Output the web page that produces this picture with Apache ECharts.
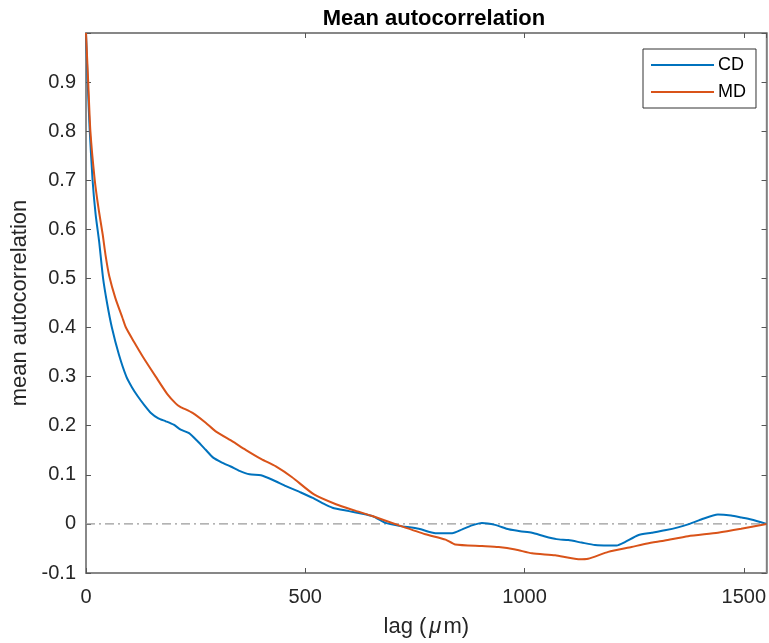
<!DOCTYPE html>
<html>
<head>
<meta charset="utf-8">
<title>Mean autocorrelation</title>
<script src="https://cdn.jsdelivr.net/npm/echarts@6/dist/echarts.min.js"></script>
<style>
  html, body { margin: 0; padding: 0; background: #fff; }
  #chart { width: 769px; height: 643px; }
</style>
</head>
<body>
<div id="chart"></div>
<script>
// values
var lagCD = [0, 3, 8, 15, 22, 30, 39, 48, 59, 75, 92, 105, 118, 133, 148, 165, 182, 200, 216, 235,
  255, 273, 290, 310, 330, 350, 373, 399, 425, 456, 490, 517, 540, 562, 600, 653, 683, 714, 759, 797,
  835, 858, 880, 903, 933, 964, 990, 1017, 1045, 1073, 1100, 1130, 1161, 1190, 1210, 1229, 1259, 1290,
  1320, 1350, 1373, 1403, 1441, 1471, 1495, 1517, 1552];
var cdValues = [1.0, 0.92, 0.81, 0.70, 0.63, 0.575, 0.50, 0.45, 0.40, 0.345, 0.30, 0.278, 0.26, 0.242,
  0.226, 0.215, 0.209, 0.202, 0.192, 0.185, 0.168, 0.151, 0.135, 0.125, 0.117, 0.108, 0.101, 0.099,
  0.09, 0.077, 0.064, 0.053, 0.042, 0.033, 0.026, 0.016, 0.002, -0.004, -0.010, -0.019, -0.019, -0.011,
  -0.003, 0.002, -0.002, -0.011, -0.015, -0.018, -0.025, -0.031, -0.033, -0.038, -0.043, -0.044, -0.044,
  -0.037, -0.023, -0.018, -0.013, -0.007, -0.001, 0.009, 0.019, 0.017, 0.013, 0.009, 0.0];

var lagMD = [0, 5, 10, 20, 29, 38, 45, 53, 67, 83, 91, 110, 130, 159, 185, 205, 214, 243, 273, 295,
  334, 364, 400, 433, 470, 520, 570, 610, 653, 714, 774, 820, 842, 903, 941, 979, 1017, 1070, 1123,
  1145, 1191, 1244, 1280, 1320, 1373, 1441, 1494, 1552];
var mdValues = [1.0, 0.90, 0.80, 0.70, 0.64, 0.59, 0.545, 0.505, 0.46, 0.42, 0.40, 0.37, 0.34, 0.30,
  0.265, 0.245, 0.239, 0.226, 0.206, 0.189, 0.168, 0.151, 0.132, 0.117, 0.095, 0.060, 0.040, 0.028,
  0.016, -0.003, -0.021, -0.032, -0.042, -0.045, -0.047, -0.052, -0.060, -0.064, -0.072, -0.071,
  -0.057, -0.047, -0.040, -0.034, -0.025, -0.018, -0.010, 0.0];

var xTicks = [0, 500, 1000, 1500];
var lagMax = 1552;
var zeroLevel = 0;

function pairs(xs, ys) {
  return xs.map(function (x, i) { return [x, ys[i]]; });
}

var font = 'Liberation Sans, Arial, Helvetica, sans-serif';
var axisGrey = '#808080';
var tickStyle = { inside: true, length: 5, lineStyle: { color: '#555' } };
var lineOff = { onZero: false, lineStyle: { color: axisGrey, width: 1.5 } };

var chart = echarts.init(document.getElementById('chart'));

var option = {
  animation: false,
  textStyle: { fontFamily: font },
  title: {
    text: 'Mean autocorrelation',
    left: 429,
    textAlign: 'center',
    top: 3,
    textStyle: { fontSize: 22, fontWeight: 'bold', color: '#000', fontFamily: font }
  },
  legend: {
    orient: 'vertical',
    left: 643,
    top: 49,
    padding: [7, 10, 7, 8],
    borderColor: '#333',
    borderWidth: 1,
    backgroundColor: '#fff',
    itemWidth: 63,
    itemHeight: 2,
    itemGap: 9,
    icon: 'rect',
    textStyle: { fontSize: 18, color: '#000', lineHeight: 18, padding: [0, 0, 0, -1] },
    data: ['CD', 'MD']
  },
  grid: {
    left: 86, top: 33, right: 0, bottom: 70,
    show: true, borderColor: axisGrey, borderWidth: 1.5,
    containLabel: false
  },
  xAxis: [{
    type: 'value',
    min: 0,
    max: lagMax,
    interval: 500,
    name: 'lag ({mu|\u03bc}m)',
    nameLocation: 'middle',
    nameGap: 43,
    nameTextStyle: {
      fontSize: 22, color: '#262626',
      rich: { mu: { fontSize: 22, fontStyle: 'italic', color: '#262626', padding: [0, 2, 0, 3] } }
    },
    axisLine: lineOff,
    axisTick: tickStyle,
    axisLabel: {
      fontSize: 20, color: '#262626', margin: 14, showMaxLabel: false,
      formatter: function (v) { return xTicks.indexOf(v) >= 0 ? String(v) : ''; }
    },
    splitLine: { show: false }
  }, {
    type: 'value',
    position: 'top',
    min: 0,
    max: lagMax,
    interval: 500,
    axisLine: lineOff,
    axisTick: tickStyle,
    axisLabel: { show: false },
    splitLine: { show: false }
  }],
  yAxis: [{
    type: 'value',
    min: -0.1,
    max: 1,
    interval: 0.1,
    name: 'mean autocorrelation',
    nameLocation: 'middle',
    nameGap: 52,
    nameTextStyle: { fontSize: 22, color: '#262626' },
    axisLine: lineOff,
    axisTick: tickStyle,
    axisLabel: {
      fontSize: 20, color: '#262626', margin: 10,
      formatter: function (v) {
        if (v >= 0.999) return '';
        return String(Math.round(v * 10) / 10);
      }
    },
    splitLine: { show: false }
  }, {
    type: 'value',
    position: 'right',
    min: -0.1,
    max: 1,
    interval: 0.1,
    axisLine: lineOff,
    axisTick: tickStyle,
    axisLabel: { show: false },
    splitLine: { show: false }
  }],
  series: [
    {
      name: 'zero',
      type: 'line',
      data: [[0, zeroLevel], [lagMax, zeroLevel]],
      showSymbol: false,
      silent: true,
      lineStyle: { color: '#9a9a9a', width: 1.2, type: [9, 4, 2, 4] },
      z: 1
    },
    {
      name: 'CD',
      type: 'line',
      data: pairs(lagCD, cdValues),
      showSymbol: false,
      smooth: 0.2,
      color: '#0072BD',
      lineStyle: { width: 2, color: '#0072BD' },
      z: 2
    },
    {
      name: 'MD',
      type: 'line',
      data: pairs(lagMD, mdValues),
      showSymbol: false,
      smooth: 0.2,
      color: '#D95319',
      lineStyle: { width: 2, color: '#D95319' },
      z: 3
    }
  ]
};

chart.setOption(option);
</script>
</body>
</html>
